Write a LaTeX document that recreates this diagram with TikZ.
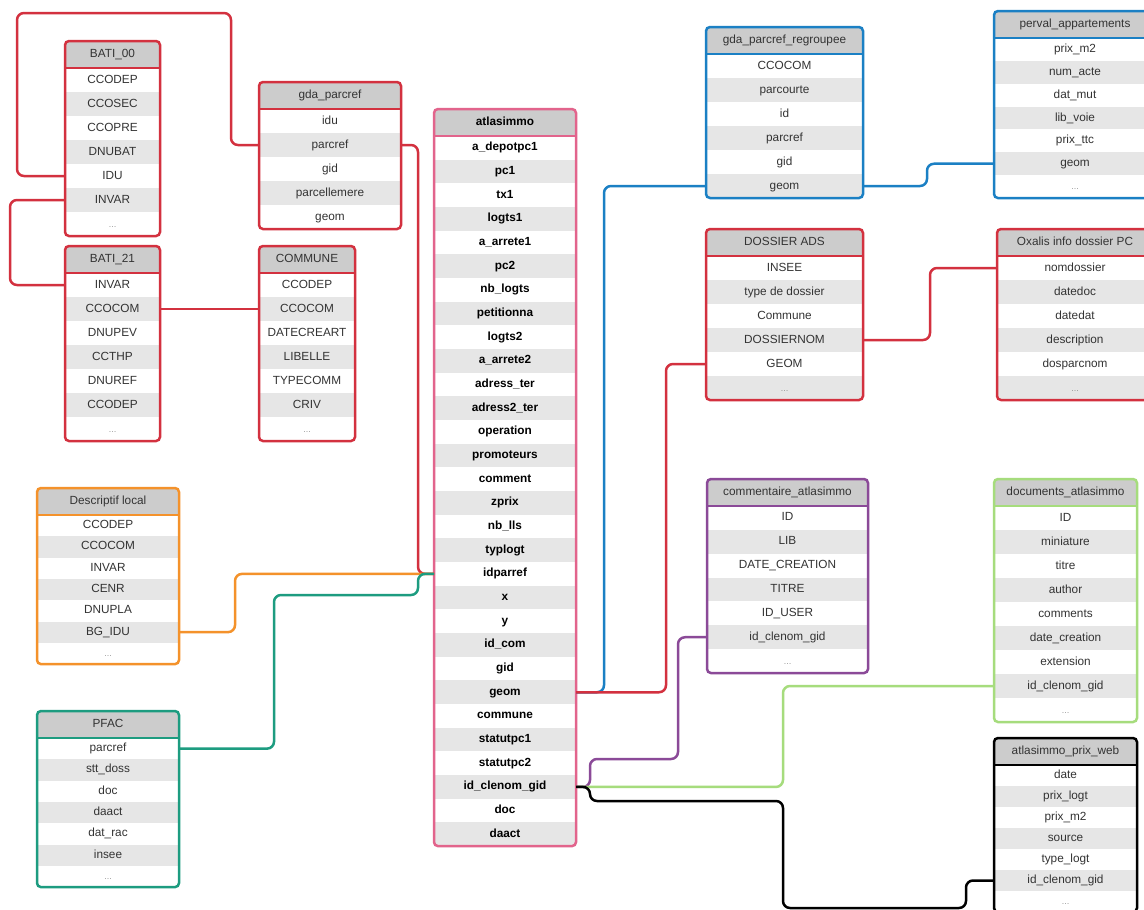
\documentclass[tikz,border=0pt]{standalone}
\usepackage{fontspec}
\setmainfont{Liberation Sans}
\usetikzlibrary{calc}

\definecolor{headgray}{HTML}{CCCCCC}
\definecolor{rowgray}{HTML}{E6E6E6}
\definecolor{txtgray}{HTML}{333333}
\definecolor{linkred}{HTML}{D3313F}
\definecolor{linkpink}{HTML}{E2648C}
\definecolor{linkblue}{HTML}{1B80C4}
\definecolor{linkorange}{HTML}{F4922B}
\definecolor{linkteal}{HTML}{1D9C80}
\definecolor{linkpurple}{HTML}{8B4A98}
\definecolor{linkgreen}{HTML}{A6DC7D}

\tikzset{
  tabtitle/.style={fill=headgray, text=txtgray, inner sep=0pt, outer sep=0pt, anchor=north west,
    text height=8.6pt, text depth=2.6pt, font=\fontsize{11.8}{14}\selectfont},
  tabrow/.style={inner sep=0pt, outer sep=0pt, anchor=north west, text=txtgray,
    text height=8.6pt, text depth=2.6pt, font=\fontsize{11.8}{14}\selectfont},
  boldrow/.style={text=black, font=\fontsize{11.8}{14}\selectfont\bfseries},
  tabframe/.style={line width=2.5pt, rounded corners=4pt},
  link/.style={line width=2.5pt, rounded corners=7pt},
}

% "..." row of a table
\newcommand{\more}{\textcolor{gray}{\footnotesize\dots}}

% table: [extra keys]{name}{left}{top}{width}{row height}{colour}{title}{fields}
\newcommand{\dbtable}[9][]{%
  \node[tabtitle, minimum width=#5, minimum height=27, #1] (#2) at (#3,#4) {#8};
  \foreach \fld [count=\i] in {#9} {
    \ifodd\i \def\rowfill{white}\else \def\rowfill{rowgray}\fi
    \node[tabrow, minimum width=#5, minimum height=#6, fill=\rowfill, #1]
      (#2-\i) at (#3,{#4+27+(\i-1)*#6}) {\fld};
    \xdef\lastrow{\i}
  }
  \draw[tabframe, draw=#7] (#2.north west) rectangle (#2-\lastrow.south east);
  \draw[line width=2.5pt, draw=#7] (#2.south west) -- (#2.south east);
}

\begin{document}
\begin{tikzpicture}[x=1pt, y=-1pt]

\fill[white] (0,0) rectangle (1144,910);
\useasboundingbox (0,0) rectangle (1144,910);

% Cadastre tables (left)
\dbtable{bati00}{65}{41}{95}{24}{linkred}{BATI\_00}{CCODEP,CCOSEC,CCOPRE,DNUBAT,IDU,INVAR,\more}
\dbtable{gdaparcref}{259}{82}{142}{24}{linkred}{gda\_parcref}{idu,parcref,gid,parcellemere,geom}
\dbtable{bati21}{65}{246}{95}{24}{linkred}{BATI\_21}{INVAR,CCOCOM,DNUPEV,CCTHP,DNUREF,CCODEP,\more}
\dbtable{commune}{259}{246}{96}{24}{linkred}{COMMUNE}{CCODEP,CCOCOM,DATECREART,LIBELLE,TYPECOMM,CRIV,\more}
\dbtable{desc}{37}{488}{142}{21.3}{linkorange}{Descriptif local}{CCODEP,CCOCOM,INVAR,CENR,DNUPLA,BG\_IDU,\more}
\dbtable{pfac}{37}{711}{142}{21.3}{linkteal}{PFAC}{parcref,stt\_doss,doc,daact,dat\_rac,insee,\more}

% Main table
\dbtable[boldrow]{atlas}{434}{109}{142}{23.67}{linkpink}{atlasimmo}{a\_depotpc1,pc1,tx1,logts1,a\_arrete1,pc2,nb\_logts,petitionna,logts2,a\_arrete2,adress\_ter,adress2\_ter,operation,promoteurs,comment,zprix,nb\_lls,typlogt,idparref,x,y,id\_com,gid,geom,commune,statutpc1,statutpc2,id\_clenom\_gid,doc,daact}

% Tables on the right
\dbtable{gpr}{706}{27}{157}{24}{linkblue}{gda\_parcref\_regroupee}{CCOCOM,parcourte,id,parcref,gid,geom}
\dbtable{perval}{994}{11}{162}{22.86}{linkblue}{perval\_appartements}{prix\_m2,num\_acte,dat\_mut,lib\_voie,prix\_ttc,geom,\more}
\dbtable{ads}{706}{229}{157}{24}{linkred}{DOSSIER ADS}{INSEE,type de dossier,Commune,DOSSIERNOM,GEOM,\more}
\dbtable{oxalis}{997}{229}{156}{24}{linkred}{Oxalis info dossier PC}{nomdossier,datedoc,datedat,description,dosparcnom,\more}
\dbtable{comm}{707}{479}{161}{23.86}{linkpurple}{commentaire\_atlasimmo}{ID,LIB,DATE\_CREATION,TITRE,ID\_USER,id\_clenom\_gid,\more}
\dbtable{docs}{994}{479}{143}{24}{linkgreen}{documents\_atlasimmo}{ID,miniature,titre,author,comments,date\_creation,extension,id\_clenom\_gid,\more}
\dbtable{prix}{994}{738}{143}{21}{black}{atlasimmo\_prix\_web}{date,prix\_logt,prix\_m2,source,type\_logt,id\_clenom\_gid,\more}

% Links between cadastre tables
\draw[link, linkred] (bati00-5.west) -| (17,13) -| ([xshift=-28pt]gdaparcref-2.west) -- (gdaparcref-2.west);
\draw[link, linkred] (bati00-6.west) -| ([xshift=-55pt]bati21-1.west) -- (bati21-1.west);
\draw[link, linkred] (bati21-2.east) -- (commune-2.west);

% Links into atlasimmo
\draw[link, linkred] (gdaparcref-2.east) -| ([xshift=-16pt]atlas-19.west) -- (atlas-19.west);
\draw[link, linkorange] (desc-6.east) -| ([xshift=-199pt]atlas-19.west) -- (atlas-19.west);
\draw[link, linkteal] (pfac-1.east) -| (274,595) -| ([xshift=-16pt]atlas-19.west) -- (atlas-19.west);

% Links out of atlasimmo geom
\draw[link, linkblue] (atlas-24.east) -| ([xshift=-102pt]gpr-6.west) -- (gpr-6.west);
\draw[link, linkred] (atlas-24.east) -| ([xshift=-40pt]ads-5.west) -- (ads-5.west);
\draw[link, linkblue] (gpr-6.east) -| ([xshift=-67pt]perval-6.west) -- (perval-6.west);
\draw[link, linkred] (ads-4.east) -| ([xshift=-67pt]oxalis-1.west) -- (oxalis-1.west);

% Links out of atlasimmo id_clenom_gid
\draw[link, linkpurple] (atlas-28.east) -| (590,759) -| ([xshift=-29pt]comm-6.west) -- (comm-6.west);
\draw[link, linkgreen] (atlas-28.east) -| ([xshift=-211pt]docs-8.west) -- (docs-8.west);
\draw[link, black] (atlas-28.east) -| (590,801) -| (783,908) -| ([xshift=-28pt]prix-6.west) -- (prix-6.west);

\end{tikzpicture}
\end{document}
